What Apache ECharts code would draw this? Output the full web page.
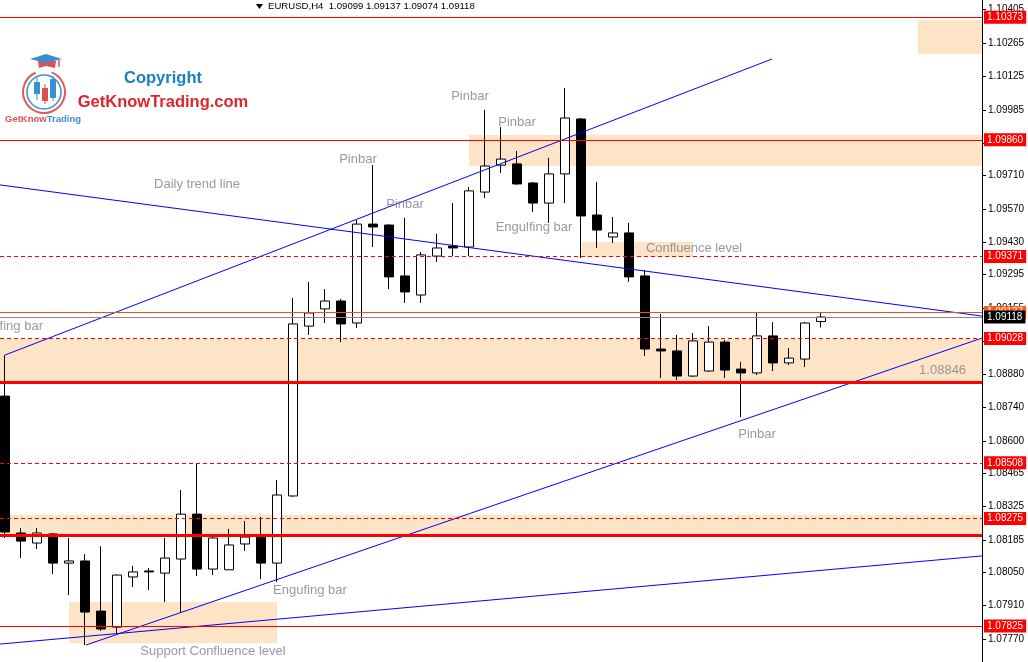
<!DOCTYPE html>
<html>
<head>
<meta charset="utf-8">
<script src="https://cdn.jsdelivr.net/npm/echarts@6/dist/echarts.min.js"></script>
<style>
  html, body { margin: 0; padding: 0; background: #fff; }
  #chart { width: 1028px; height: 662px; }
</style>
</head>
<body>
<div id="chart"></div>
<script>
const symbolName = 'EURUSD,H4'

// H4 bars, oldest first
const opens = [1.08787, 1.08214, 1.08172, 1.08210, 1.08088, 1.08097, 1.07887, 1.07820, 1.08030, 1.08055,
  1.08046, 1.08105, 1.08293, 1.08063, 1.08060, 1.08168, 1.08197, 1.08088, 1.08369, 1.09080,
  1.09152, 1.09185, 1.09093, 1.09507, 1.09503, 1.09290, 1.09210, 1.09373, 1.09415, 1.09411,
  1.09641, 1.09754, 1.09759, 1.09679, 1.09595, 1.09717, 1.09947, 1.09545, 1.09453, 1.09470,
  1.09290, 1.08984, 1.08976, 1.08871, 1.08892, 1.09013, 1.08900, 1.08884, 1.09039, 1.08926,
  1.08942, 1.09099]
const highs = [1.08959, 1.08235, 1.08235, 1.08214, 1.08193, 1.08126, 1.08159, 1.08040, 1.08076, 1.08067,
  1.08193, 1.08394, 1.08503, 1.08197, 1.08231, 1.08264, 1.08281, 1.08436, 1.09198, 1.09265,
  1.09235, 1.09194, 1.09524, 1.09754, 1.09507, 1.09533, 1.09390, 1.09466, 1.09595, 1.09662,
  1.09985, 1.09913, 1.09813, 1.09683, 1.09784, 1.10077, 1.09951, 1.09683, 1.09537, 1.09512,
  1.09315, 1.09131, 1.09043, 1.09051, 1.09080, 1.09022, 1.08930, 1.09139, 1.09097, 1.08988,
  1.09097, 1.09137]
const lows = [1.08193, 1.08109, 1.08147, 1.08042, 1.07954, 1.07745, 1.07804, 1.07795, 1.07988, 1.07975,
  1.07925, 1.07883, 1.08034, 1.08038, 1.08060, 1.08139, 1.08021, 1.08009, 1.08365, 1.09043,
  1.09093, 1.09013, 1.09072, 1.09411, 1.09235, 1.09177, 1.09177, 1.09348, 1.09373, 1.09373,
  1.09616, 1.09721, 1.09671, 1.09558, 1.09512, 1.09595, 1.09365, 1.09407, 1.09428, 1.09265,
  1.08955, 1.08863, 1.08854, 1.08867, 1.08888, 1.08863, 1.08699, 1.08875, 1.08892, 1.08917,
  1.08909, 1.09074]
const closes = [1.08218, 1.08180, 1.08214, 1.08088, 1.08097, 1.07883, 1.07812, 1.08038, 1.08051, 1.08051,
  1.08109, 1.08293, 1.08063, 1.08193, 1.08164, 1.08197, 1.08088, 1.08373, 1.09089, 1.09135,
  1.09185, 1.09089, 1.09507, 1.09495, 1.09286, 1.09223, 1.09378, 1.09407, 1.09407, 1.09646,
  1.09750, 1.09779, 1.09675, 1.09595, 1.09717, 1.09951, 1.09541, 1.09482, 1.09470, 1.09286,
  1.08984, 1.08976, 1.08871, 1.09018, 1.09013, 1.08896, 1.08884, 1.09039, 1.08926, 1.08946,
  1.09093, 1.09118]

const tickLabels = ['1.10405', '1.10265', '1.10125', '1.09985', '1.09845', '1.09710', '1.09570',
  '1.09430', '1.09295', '1.09155', '1.09015', '1.08880', '1.08740', '1.08600', '1.08465',
  '1.08325', '1.08185', '1.08050', '1.07910', '1.07770']

// horizontal levels
const solidLevels = [1.10373, 1.09860, 1.07825]
const dashedLevels = [1.09371, 1.09028, 1.08508, 1.08275]
const thickLevels = [1.08846, 1.08203]

// supply / demand zones: [fromBar, toBar, top, bottom], null bar = whole width
const zones = [
  [57.06, null, 1.10361, 1.10219],
  [29, null, 1.09880, 1.09750],
  [36.06, 43, 1.09432, 1.09369],
  [null, null, 1.09026, 1.08846],
  [null, null, 1.08289, 1.08203],
  [4, 17, 1.07925, 1.07753]
]

// trend lines, [bar, price] end points
const trendLines = [
  [[0, 1.08959], [47.94, 1.10198]],
  [[-0.3125, 1.09671], [61.06, 1.09122]],
  [[5.06, 1.07745], [61.06, 1.09030]],
  [[-0.3125, 1.07749], [61.06, 1.08118]]
]

const notes = [
  ['Pinbar', 29.06, 1.10043],
  ['Pinbar', 32, 1.09934],
  ['Pinbar', 22.06, 1.09779],
  ['Pinbar', 25, 1.09591],
  ['Daily trend line', 12, 1.09671],
  ['Engulfing bar', 33.06, 1.09491],
  ['Confluence level', 43.06, 1.09407],
  ['Engulfing bar', -0.02, 1.09080],
  ['1.08846', 58.6, 1.08896],
  ['Pinbar', 47, 1.08628],
  ['Engufing bar', 19.06, 1.07975],
  ['Support Confluence level', 13, 1.07720]
]

const last = closes.length - 1
const candles = opens.map((o, i) => [i, o, closes[i], lows[i], highs[i]])

const priceBox = (bg, fg) => ({
  show: true,
  position: 'end',
  distance: 2,
  formatter: (p) => Number(p.value).toFixed(5),
  backgroundColor: bg,
  color: fg,
  fontFamily: 'Liberation Sans',
  fontSize: 10,
  padding: [2, 3, 1, 3]
})

const levelLines = [
  ...thickLevels.map(v => ({ yAxis: v, lineStyle: { color: '#ff0000', width: 3, type: 'solid' }, label: { show: false } })),
  ...solidLevels.map(v => ({ yAxis: v, lineStyle: { color: '#ff0000', width: 1, type: 'solid' }, label: priceBox('#ff0000', '#fff') })),
  ...dashedLevels.map(v => ({ yAxis: v, lineStyle: { color: '#ff0000', width: 1, type: [4, 3] }, label: priceBox('#ff0000', '#fff') })),
  { yAxis: highs[last], lineStyle: { color: '#ff4a10', width: 1, type: 'solid' }, label: priceBox('#ff5a1e', '#fff') },
  { yAxis: closes[last], lineStyle: { color: '#8a8a8a', width: 1, type: 'solid' }, label: priceBox('#000', '#fff') }
]

const zoneAreas = zones.map(([x0, x1, top, bottom]) => {
  const a = { yAxis: top }
  const b = { yAxis: bottom }
  if (x0 !== null) a.xAxis = x0
  if (x1 !== null) b.xAxis = x1
  else if (x0 !== null) b.xAxis = 61.0625
  return [a, b]
})

const chart = echarts.init(document.getElementById('chart'))
const option = {
  animation: false,
  backgroundColor: '#fff',
  grid: { left: 0, right: 46, top: 0, bottom: 0 },
  xAxis: {
    type: 'value',
    min: -0.3125,
    max: 61.0625,
    show: false
  },
  yAxis: {
    type: 'value',
    position: 'right',
    min: 1.07674,
    max: 1.10445,
    splitLine: { show: false },
    axisLine: { show: true, onZero: false, lineStyle: { color: '#000', width: 1 } },
    axisTick: { show: true, length: 4, lineStyle: { color: '#000' }, customValues: tickLabels.map(Number) },
    axisLabel: {
      show: true,
      margin: 6,
      color: '#000',
      fontFamily: 'Liberation Sans',
      fontSize: 10,
      customValues: tickLabels.map(Number),
      formatter: (v) => v.toFixed(5)
    }
  },
  graphic: [
    // header line
    { type: 'polygon', shape: { points: [[256, 4], [263, 4], [259.5, 9]] }, style: { fill: '#000' } },
    {
      type: 'text', left: 268, top: 1,
      style: {
        text: symbolName + '  ' + [opens[last], highs[last], lows[last], closes[last]].map(v => v.toFixed(5)).join(' '),
        fill: '#000', font: '9.6px "Liberation Sans"'
      }
    },
    // logo
    { type: 'arc', shape: { cx: 44, cy: 92, r: 21, startAngle: -1.2, endAngle: 4.3 }, style: { stroke: '#e05a5a', lineWidth: 2, fill: null } },
    { type: 'circle', shape: { cx: 44, cy: 92, r: 17 }, style: { stroke: '#3a8fd0', lineWidth: 1.5, fill: null } },
    { type: 'line', shape: { x1: 37, y1: 77, x2: 37, y2: 100 }, style: { stroke: '#3a8fd0', lineWidth: 1 } },
    { type: 'rect', shape: { x: 34, y: 82, width: 6, height: 12 }, style: { fill: '#3a8fd0' } },
    { type: 'line', shape: { x1: 45, y1: 84, x2: 45, y2: 104 }, style: { stroke: '#d9534f', lineWidth: 1 } },
    { type: 'rect', shape: { x: 42, y: 88, width: 6, height: 13 }, style: { fill: '#d9534f' } },
    { type: 'line', shape: { x1: 53, y1: 76, x2: 53, y2: 101 }, style: { stroke: '#3a8fd0', lineWidth: 1 } },
    { type: 'rect', shape: { x: 50, y: 79, width: 6, height: 19 }, style: { fill: '#3a8fd0' } },
    { type: 'polygon', shape: { points: [[38, 61], [56, 61], [55, 68], [46, 66], [39, 68]] }, style: { fill: '#d9534f' } },
    { type: 'polygon', shape: { points: [[30, 59], [46, 54], [62, 59], [46, 63]] }, style: { fill: '#3a8fd0' } },
    { type: 'line', shape: { x1: 59, y1: 60, x2: 59, y2: 67 }, style: { stroke: '#d9534f', lineWidth: 1.5 } },
    {
      type: 'text', left: 5, top: 114,
      style: {
        text: '{a|GetKnow}{b|Trading}',
        rich: {
          a: { fill: '#d9534f', font: 'bold 9.5px "Liberation Sans"' },
          b: { fill: '#3a8fd0', font: 'bold 9.5px "Liberation Sans"' }
        }
      }
    },
    {
      type: 'text', x: 163, y: 78,
      style: { text: 'Copyright', fill: '#1a80c4', font: 'bold 16.5px "Liberation Sans"', align: 'center', verticalAlign: 'middle' }
    },
    {
      type: 'text', x: 163, y: 102,
      style: { text: 'GetKnowTrading.com', fill: '#e0242a', font: 'bold 16.5px "Liberation Sans"', align: 'center', verticalAlign: 'middle' }
    }
  ],
  series: [
    {
      name: 'zones',
      type: 'line',
      data: [],
      z: 1,
      silent: true,
      markArea: {
        silent: true,
        itemStyle: { color: '#fde4c6' },
        data: zoneAreas
      }
    },
    {
      name: symbolName,
      type: 'candlestick',
      z: 2,
      barWidth: 9,
      data: candles,
      encode: { x: 0, y: [1, 2, 3, 4] },
      itemStyle: {
        color: '#fff',
        color0: '#000',
        borderColor: '#000',
        borderColor0: '#000',
        borderWidth: 1
      }
    },
    {
      name: 'levels',
      type: 'line',
      data: [],
      z: 3,
      silent: true,
      markLine: {
        silent: true,
        symbol: 'none',
        precision: 5,
        animation: false,
        data: levelLines
      }
    },
    ...trendLines.map((pts, i) => ({
      name: 'trend' + i,
      type: 'line',
      z: 4,
      silent: true,
      symbol: 'none',
      data: pts,
      lineStyle: { color: '#0000ff', width: 1 }
    })),
    {
      name: 'notes',
      type: 'scatter',
      z: 5,
      silent: true,
      symbolSize: 0,
      data: notes.map(n => [n[1], n[2], n[0]]),
      label: {
        show: true,
        position: 'inside',
        formatter: (p) => p.data[2],
        color: '#80808c',
        fontFamily: 'Liberation Sans',
        fontSize: 13
      }
    }
  ]
}
chart.setOption(option)
</script>
</body>
</html>
